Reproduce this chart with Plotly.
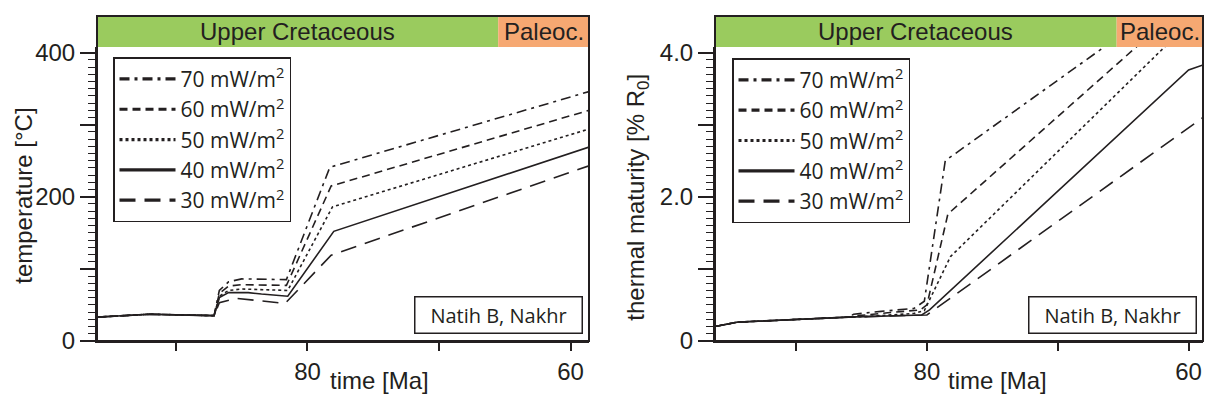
import plotly.graph_objects as go

# ---------------- data ----------------
series_names = ["70 mW/m<sup>2</sup>", "60 mW/m<sup>2</sup>", "50 mW/m<sup>2</sup>",
                "40 mW/m<sup>2</sup>", "30 mW/m<sup>2</sup>"]
series_dashes = ["10px,5px,3px,5px", "8px,5px", "3px,3px", "solid", "16px,9px"]

# temperature [°C] vs time [Ma]
temp_base_t = [96.0, 92.0, 87.1]
temp_base_v = [33, 37, 35]
temp_t_70 = [86.7, 86.0, 85.0, 81.6, 78.3, 58.6]
temp_v_70 = [70, 82, 86, 85, 241, 346]
temp_t_60 = [86.7, 86.0, 85.0, 81.6, 78.2, 58.6]
temp_v_60 = [66, 76, 78, 77, 215, 320]
temp_t_50 = [86.7, 86.0, 85.0, 81.5, 78.1, 58.6]
temp_v_50 = [62, 70, 72, 70, 186, 294]
temp_t_40 = [86.7, 86.0, 84.5, 83.5, 81.5, 78.0, 58.6]
temp_v_40 = [60, 67, 67, 65, 62, 152, 269]
temp_t_30 = [86.7, 85.4, 81.7, 78.2, 58.6]
temp_v_30 = [53, 59, 52, 119, 243]

# thermal maturity [% Ro] vs time [Ma]
mat_base_t = [96.2, 94.5, 86.0]
mat_base_v = [0.20, 0.26, 0.33]
mat_t_70 = [85.6, 83.5, 81.0, 80.2, 78.6, 58.9]
mat_v_70 = [0.37, 0.41, 0.45, 0.55, 2.50, 5.06]
mat_t_60 = [85.3, 83.0, 80.5, 80.0, 78.4, 58.9]
mat_v_60 = [0.35, 0.39, 0.43, 0.50, 1.76, 4.90]
mat_t_50 = [84.5, 81.0, 80.2, 78.2, 58.9]
mat_v_50 = [0.34, 0.38, 0.42, 1.17, 4.60]
mat_t_40 = [80.4, 79.8, 60.0, 58.9]
mat_v_40 = [0.36, 0.43, 3.76, 3.83]
mat_t_30 = [80.6, 80.0, 58.9]
mat_v_30 = [0.35, 0.36, 3.10]

temp_t = [temp_t_70, temp_t_60, temp_t_50, temp_t_40, temp_t_30]
temp_v = [temp_v_70, temp_v_60, temp_v_50, temp_v_40, temp_v_30]
mat_t = [mat_t_70, mat_t_60, mat_t_50, mat_t_40, mat_t_30]
mat_v = [mat_v_70, mat_v_60, mat_v_50, mat_v_40, mat_v_30]

stage_names = ["Upper Cretaceous", "Paleoc."]
stage_boundary = 65.5
stage_colors = ["#9ACB5E", "#F6A872"]

x_tickvals = [90, 80, 70, 60]
x_ticktext = ["", "80", "", "60"]
temp_tickvals = [0, 100, 200, 300, 400]
temp_ticktext = ["0", "", "200", "", "400"]
mat_tickvals = [0, 1, 2, 3, 4]
mat_ticktext = ["0", "", "2.0", "", "4.0"]

# ---------------- figure ----------------
INK = "#231F20"
W, H = 1208, 407
def px(x):
    return x / W
def py(y):
    return (H - y) / H

ybot, ytop, bandtop = py(351), py(41), py(8.5)
dom1 = [px(97), px(589)]
dom2 = [px(715), px(1203)]
xr1 = [96.0, 58.6]
xr2 = [96.2, 58.9]

fig = go.Figure()

for i in range(5):
    fig.add_trace(go.Scatter(
        x=temp_base_t + temp_t[i], y=temp_base_v + temp_v[i], mode="lines",
        line=dict(color=INK, width=1.6, dash=series_dashes[i]),
        xaxis="x", yaxis="y", showlegend=False, hoverinfo="skip"))
    fig.add_trace(go.Scatter(
        x=mat_base_t + mat_t[i], y=mat_base_v + mat_v[i], mode="lines",
        line=dict(color=INK, width=1.6, dash=series_dashes[i]),
        xaxis="x2", yaxis="y2", showlegend=False, hoverinfo="skip"))

# legend entries (thicker samples)
for lg, xa, ya in [("legend", "x", "y"), ("legend2", "x2", "y2")]:
    for i in range(5):
        fig.add_trace(go.Scatter(
            x=[None], y=[None], mode="lines", name=series_names[i],
            line=dict(color=INK, width=3.2, dash=series_dashes[i]),
            xaxis=xa, yaxis=ya, legend=lg, showlegend=True))

FONT_AX = "Liberation Sans, Arial, sans-serif"
FONT_HU = "Open Sans, Noto Sans, sans-serif"

axis_common = dict(showline=True, linecolor=INK, linewidth=2, ticks="outside",
                   tickcolor=INK, tickwidth=1.6, showgrid=False, zeroline=False,
                   tickfont=dict(family=FONT_AX, size=24, color=INK), mirror=False)

legend_common = dict(xanchor="left", yanchor="top", bordercolor=INK, borderwidth=1.5,
                     bgcolor="white", itemwidth=56, tracegroupgap=0,
                     font=dict(family=FONT_HU, size=21, color=INK))

fig.update_layout(
    width=W, height=H, margin=dict(l=0, r=0, t=0, b=0),
    paper_bgcolor="white", plot_bgcolor="white",
    xaxis=dict(domain=dom1, anchor="y", range=xr1, tickvals=x_tickvals,
               ticktext=x_ticktext, ticklen=8, **axis_common),
    yaxis=dict(domain=[ybot, ytop], anchor="x", range=[0, 408], tickvals=temp_tickvals,
               ticktext=temp_ticktext, ticklen=15,
               minor=dict(dtick=10, ticklen=7, tickwidth=1.4, tickcolor=INK, ticks="outside"),
               **axis_common),
    xaxis2=dict(domain=dom2, anchor="y2", range=xr2, tickvals=x_tickvals,
                ticktext=x_ticktext, ticklen=8, **axis_common),
    yaxis2=dict(domain=[ybot, ytop], anchor="x2", range=[0, 4.08], tickvals=mat_tickvals,
                ticktext=mat_ticktext, ticklen=15,
                minor=dict(dtick=0.1, ticklen=7, tickwidth=1.4, tickcolor=INK, ticks="outside"),
                **axis_common),
    legend=dict(x=px(113), y=py(52), **legend_common),
    legend2=dict(x=px(732), y=py(53), **legend_common),
)

shapes = []
annotations = []
for xr, rng in [("x", xr1), ("x2", xr2)]:
    bounds = [rng[0], stage_boundary, rng[1]]
    for k in range(2):
        shapes.append(dict(type="rect", xref=xr, yref="paper", x0=bounds[k], x1=bounds[k + 1],
                           y0=ytop, y1=bandtop, fillcolor=stage_colors[k], line=dict(width=0),
                           layer="below"))
        annotations.append(dict(x=(bounds[k] + bounds[k + 1]) / 2, xref=xr,
                                y=(ytop + bandtop) / 2, yref="paper", text=stage_names[k],
                                showarrow=False, xanchor="center", yanchor="middle",
                                font=dict(family=FONT_AX, size=24, color=INK)))
    shapes.append(dict(type="rect", xref=xr + " domain", yref="paper", x0=0, x1=1,
                       y0=ybot, y1=bandtop, line=dict(color=INK, width=2),
                       fillcolor="rgba(0,0,0,0)", layer="above"))

def ann(x, y, text, **kw):
    d = dict(x=px(x), y=py(y), xref="paper", yref="paper", text=text, showarrow=False,
             xanchor="center", yanchor="middle")
    d.update(kw)
    return d

annotations += [
    ann(379, 393, "time [Ma]", font=dict(family=FONT_AX, size=24, color=INK)),
    ann(998, 393, "time [Ma]", font=dict(family=FONT_AX, size=24, color=INK)),
    ann(24, 198, "temperature [°C]", textangle=-90,
        font=dict(family=FONT_AX, size=24, color=INK)),
    ann(638, 200, "thermal maturity [% R<sub>0</sub>]", textangle=-90,
        font=dict(family=FONT_AX, size=24, color=INK)),
    ann(498, 323.5, "Natih B, Nakhr", width=164, height=33, bordercolor=INK, borderwidth=1.5,
        bgcolor="white", font=dict(family=FONT_HU, size=20, color=INK)),
    ann(1112.5, 323.5, "Natih B, Nakhr", width=164, height=33, bordercolor=INK,
        borderwidth=1.5, bgcolor="white", font=dict(family=FONT_HU, size=20, color=INK)),
]

fig.update_layout(shapes=shapes, annotations=annotations)
fig.write_html("out.html", config={"displayModeBar": False},
               post_script="document.body.style.margin='0';document.body.style.overflow='hidden';")
